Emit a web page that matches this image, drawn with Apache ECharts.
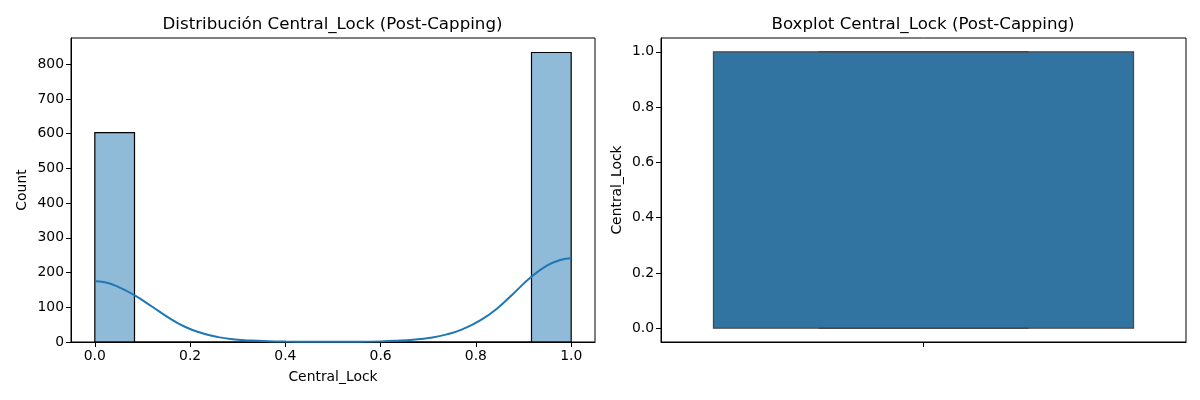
<!DOCTYPE html>
<html>
<head>
<meta charset="utf-8">
<style>html,body{margin:0;padding:0;background:#fff}#c{width:1200px;height:400px}</style>
<script src="https://cdn.jsdelivr.net/npm/echarts@6/dist/echarts.min.js"></script>
</head>
<body>
<div id="c"></div>
<script>
const binEdges = [0,0.0833,0.1667,0.25,0.3333,0.4167,0.5,0.5833,0.6667,0.75,0.8333,0.9167,1];
const binCounts = [603,0,0,0,0,0,0,0,0,0,0,834];
const kdeX = [0,0.021,0.049,0.083,0.119,0.154,0.189,0.224,0.259,0.294,0.329,0.364,0.4,0.45,0.5,0.55,0.6,0.633,0.668,0.704,0.739,0.774,0.809,0.844,0.879,0.914,0.949,0.977,1];
const kdeY = [175,172,159,135,103,71,44,26,14,7.5,4,2.2,1.3,0.8,0.7,0.9,1.8,3.5,6.5,12,22,38,62,96,140,185,220,236,241];
const boxCategory = [''];
const boxStats = [[0,0,1,1,1]];
const whiskerCaps = [0,1];
const histXTicks = [0,0.2,0.4,0.6,0.8,1];
const histYTicks = [0,100,200,300,400,500,600,700,800];
const boxYTicks = [0,0.2,0.4,0.6,0.8,1];
const titles = ['Distribución Central_Lock (Post-Capping)','Boxplot Central_Lock (Post-Capping)'];
const varName = 'Central_Lock';
const countName = 'Count';

const font = 'DejaVu Sans';
const axisCommon = {
  axisLine:{show:true,onZero:false,lineStyle:{color:'#000',width:1}},
  splitLine:{show:false},
  nameLocation:'middle',
  nameTextStyle:{color:'#000',fontFamily:font,fontSize:13.9}
};
const tickStyle = {show:true,length:5,lineStyle:{color:'#000',width:1}};
const labelStyle = {color:'#000',fontFamily:font,fontSize:13.9,margin:7};
const yLabelStyle = Object.assign({},labelStyle,{padding:[2,0,0,0]});

const chart = echarts.init(document.getElementById('c'),null,{renderer:'canvas'});
chart.setOption({
  animation:false,
  backgroundColor:'#fff',
  title:titles.map((t,i)=>({
    text:t,left:i?923:332.5,top:16,padding:0,textAlign:'center',
    textStyle:{color:'#000',fontFamily:font,fontSize:16.67,fontWeight:'normal'}
  })),
  grid:[
    {left:71,top:38,width:524,height:304,show:true,borderColor:'#000',borderWidth:1,backgroundColor:'transparent'},
    {left:661,top:38,width:525,height:304,show:true,borderColor:'#000',borderWidth:1,backgroundColor:'transparent'}
  ],
  xAxis:[
    Object.assign({},axisCommon,{type:'value',gridIndex:0,min:-0.05,max:1.05,name:varName,nameGap:28,
      axisTick:Object.assign({},tickStyle,{customValues:histXTicks}),
      axisLabel:Object.assign({},labelStyle,{customValues:histXTicks,formatter:v=>v.toFixed(1)})}),
    Object.assign({},axisCommon,{type:'category',gridIndex:1,data:boxCategory,boundaryGap:true,
      axisTick:Object.assign({},tickStyle,{alignWithLabel:true}),
      axisLabel:Object.assign({},labelStyle)})
  ],
  yAxis:[
    Object.assign({},axisCommon,{type:'value',gridIndex:0,min:0,max:875.7,name:countName,nameGap:42,
      axisTick:Object.assign({},tickStyle,{customValues:histYTicks}),
      axisLabel:Object.assign({},yLabelStyle,{customValues:histYTicks})}),
    Object.assign({},axisCommon,{type:'value',gridIndex:1,min:-0.05,max:1.05,name:varName,nameGap:37,
      axisTick:Object.assign({},tickStyle,{customValues:boxYTicks}),
      axisLabel:Object.assign({},yLabelStyle,{customValues:boxYTicks,formatter:v=>v.toFixed(1)})})
  ],
  series:[
    {
      type:'custom',xAxisIndex:0,yAxisIndex:0,z:2,
      encode:{x:[0,1],y:2},
      data:binCounts.map((c,i)=>[binEdges[i],binEdges[i+1],c]),
      renderItem:(p,api)=>{
        const a=api.coord([api.value(0),0]),b=api.coord([api.value(1),api.value(2)]);
        return {type:'rect',
          shape:{x:a[0],y:b[1],width:b[0]-a[0],height:a[1]-b[1]},
          style:{fill:'rgba(31,119,180,0.5)',stroke:'#000',lineWidth:1.2}};
      }
    },
    {
      type:'line',xAxisIndex:0,yAxisIndex:0,z:3,
      data:kdeX.map((x,i)=>[x,kdeY[i]]),
      smooth:0.5,showSymbol:false,symbol:'none',
      lineStyle:{color:'#1f77b4',width:2}
    },
    {
      type:'boxplot',xAxisIndex:1,yAxisIndex:1,z:2,
      data:boxStats,
      boxWidth:['80%','80%'],
      itemStyle:{color:'#3274a1',borderColor:'#4a4a4a',borderWidth:1.3}
    },
    {
      type:'custom',xAxisIndex:1,yAxisIndex:1,z:3,
      encode:{y:1},
      data:whiskerCaps.map(v=>[0,v]),
      renderItem:(p,api)=>{
        const c=api.coord([api.value(0),api.value(1)]);
        const w=api.size([1,0])[0]*0.4;
        return {type:'line',
          shape:{x1:c[0]-w/2,y1:c[1],x2:c[0]+w/2,y2:c[1]},
          style:{stroke:'#4a4a4a',lineWidth:1.6}};
      }
    }
  ]
});
</script>
</body>
</html>
